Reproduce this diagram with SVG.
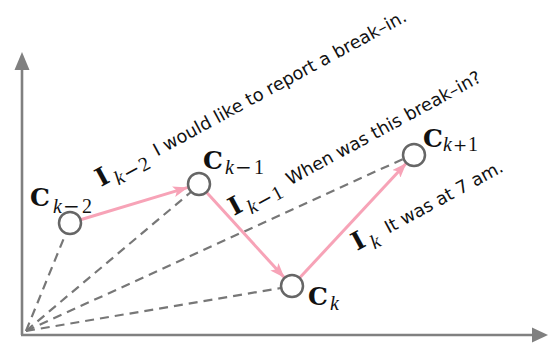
<svg xmlns="http://www.w3.org/2000/svg" width="548" height="343" viewBox="0 0 548 343">
<defs>
<style>
.axis{stroke:#808080;stroke-width:2.6;fill:none}
.axhead{fill:#808080}
.dash{stroke:#777;stroke-width:2.2;stroke-dasharray:9 6;fill:none}
.link{stroke:#f7a3b7;stroke-width:3;fill:none}
.node{fill:#fff;stroke:#666;stroke-width:2.5}
.bf{font-family:"DejaVu Serif",serif;font-weight:bold;font-size:25px;fill:#111}
.it{font-family:"Liberation Serif",serif;font-style:italic;font-size:20px;fill:#111}
.op{font-family:"DejaVu Serif",serif;font-size:20px;fill:#111}
.pl{font-family:"DejaVu Serif",serif;font-size:17px;fill:#111}
.num{font-family:"Liberation Serif",serif;font-size:20px;fill:#111}
.sent{font-family:"DejaVu Sans",sans-serif;font-size:17.7px;fill:#111}
</style>
<marker id="ah" viewBox="0 0 15 11" refX="15" refY="5.5" markerWidth="15" markerHeight="11" markerUnits="userSpaceOnUse" orient="auto">
<path d="M0,0 L15,5.5 L0,11 L3.5,5.5 z" fill="#f7a3b7"/>
</marker>
</defs>
<g id="axes">
<line class="axis" x1="22" y1="335" x2="22" y2="68"/>
<polygon class="axhead" points="22,52 14.5,70 29.5,70"/>
<line class="axis" x1="21" y1="335" x2="534" y2="335"/>
<polygon class="axhead" points="548,335 532,327.5 532,342.5"/>
</g>
<g id="connectors">
<line class="dash" x1="26" y1="331" x2="66" y2="233"/>
<line class="dash" x1="26" y1="331" x2="191" y2="192"/>
<line class="dash" x1="26" y1="331" x2="403" y2="159"/>
<line class="dash" x1="26" y1="331" x2="281" y2="288"/>
<line class="link" x1="80.5" y1="219.8" x2="188" y2="187.4" marker-end="url(#ah)"/>
<line class="link" x1="206.5" y1="192.3" x2="284.5" y2="277.8" marker-end="url(#ah)"/>
<line class="link" x1="299.5" y1="278" x2="406.5" y2="163" marker-end="url(#ah)"/>
</g>
<g id="node-ck-2">
<circle class="node" cx="70" cy="223" r="11"/>
<text class="bf" x="30" y="206">C</text>
<text class="it" x="53" y="213">k</text><text class="op" x="63" y="213">−</text><text class="num" x="82" y="213">2</text>
</g>
<g id="node-ck-1">
<circle class="node" cx="199" cy="184" r="11"/>
<text class="bf" x="203" y="169">C</text>
<text class="it" x="225" y="174">k</text><text class="op" x="235" y="174">−</text><text class="num" x="254" y="174">1</text>
</g>
<g id="node-ck">
<circle class="node" cx="292" cy="286" r="11"/>
<text class="bf" x="308" y="305">C</text>
<text class="it" x="330" y="310">k</text>
</g>
<g id="node-ck1">
<circle class="node" cx="414" cy="155" r="11"/>
<text class="bf" x="423" y="147">C</text>
<text class="it" x="443" y="151">k</text><text class="pl" x="453" y="151">+</text><text class="num" x="468" y="151">1</text>
</g>
<g id="label-ik-2" transform="translate(101,187) rotate(-28.5)">
<text class="bf" x="0" y="0">I</text>
<text class="it" x="16" y="7">k</text><text class="op" x="26" y="7">−</text><text class="num" x="44" y="7">2</text>
<text class="sent" x="64" y="0">I would like to report a break–in.</text>
</g>
<g id="label-ik-1" transform="translate(234,216) rotate(-28.5)">
<text class="bf" x="0" y="0">I</text>
<text class="it" x="16" y="7">k</text><text class="op" x="26" y="7">−</text><text class="num" x="44" y="7">1</text>
<text class="sent" x="64" y="0">When was this break–in?</text>
</g>
<g id="label-ik" transform="translate(357,251) rotate(-28.5)">
<text class="bf" x="0" y="0">I</text>
<text class="it" x="16" y="7">k</text>
<text class="sent" x="36" y="0">It was at 7 am.</text>
</g>
</svg>
